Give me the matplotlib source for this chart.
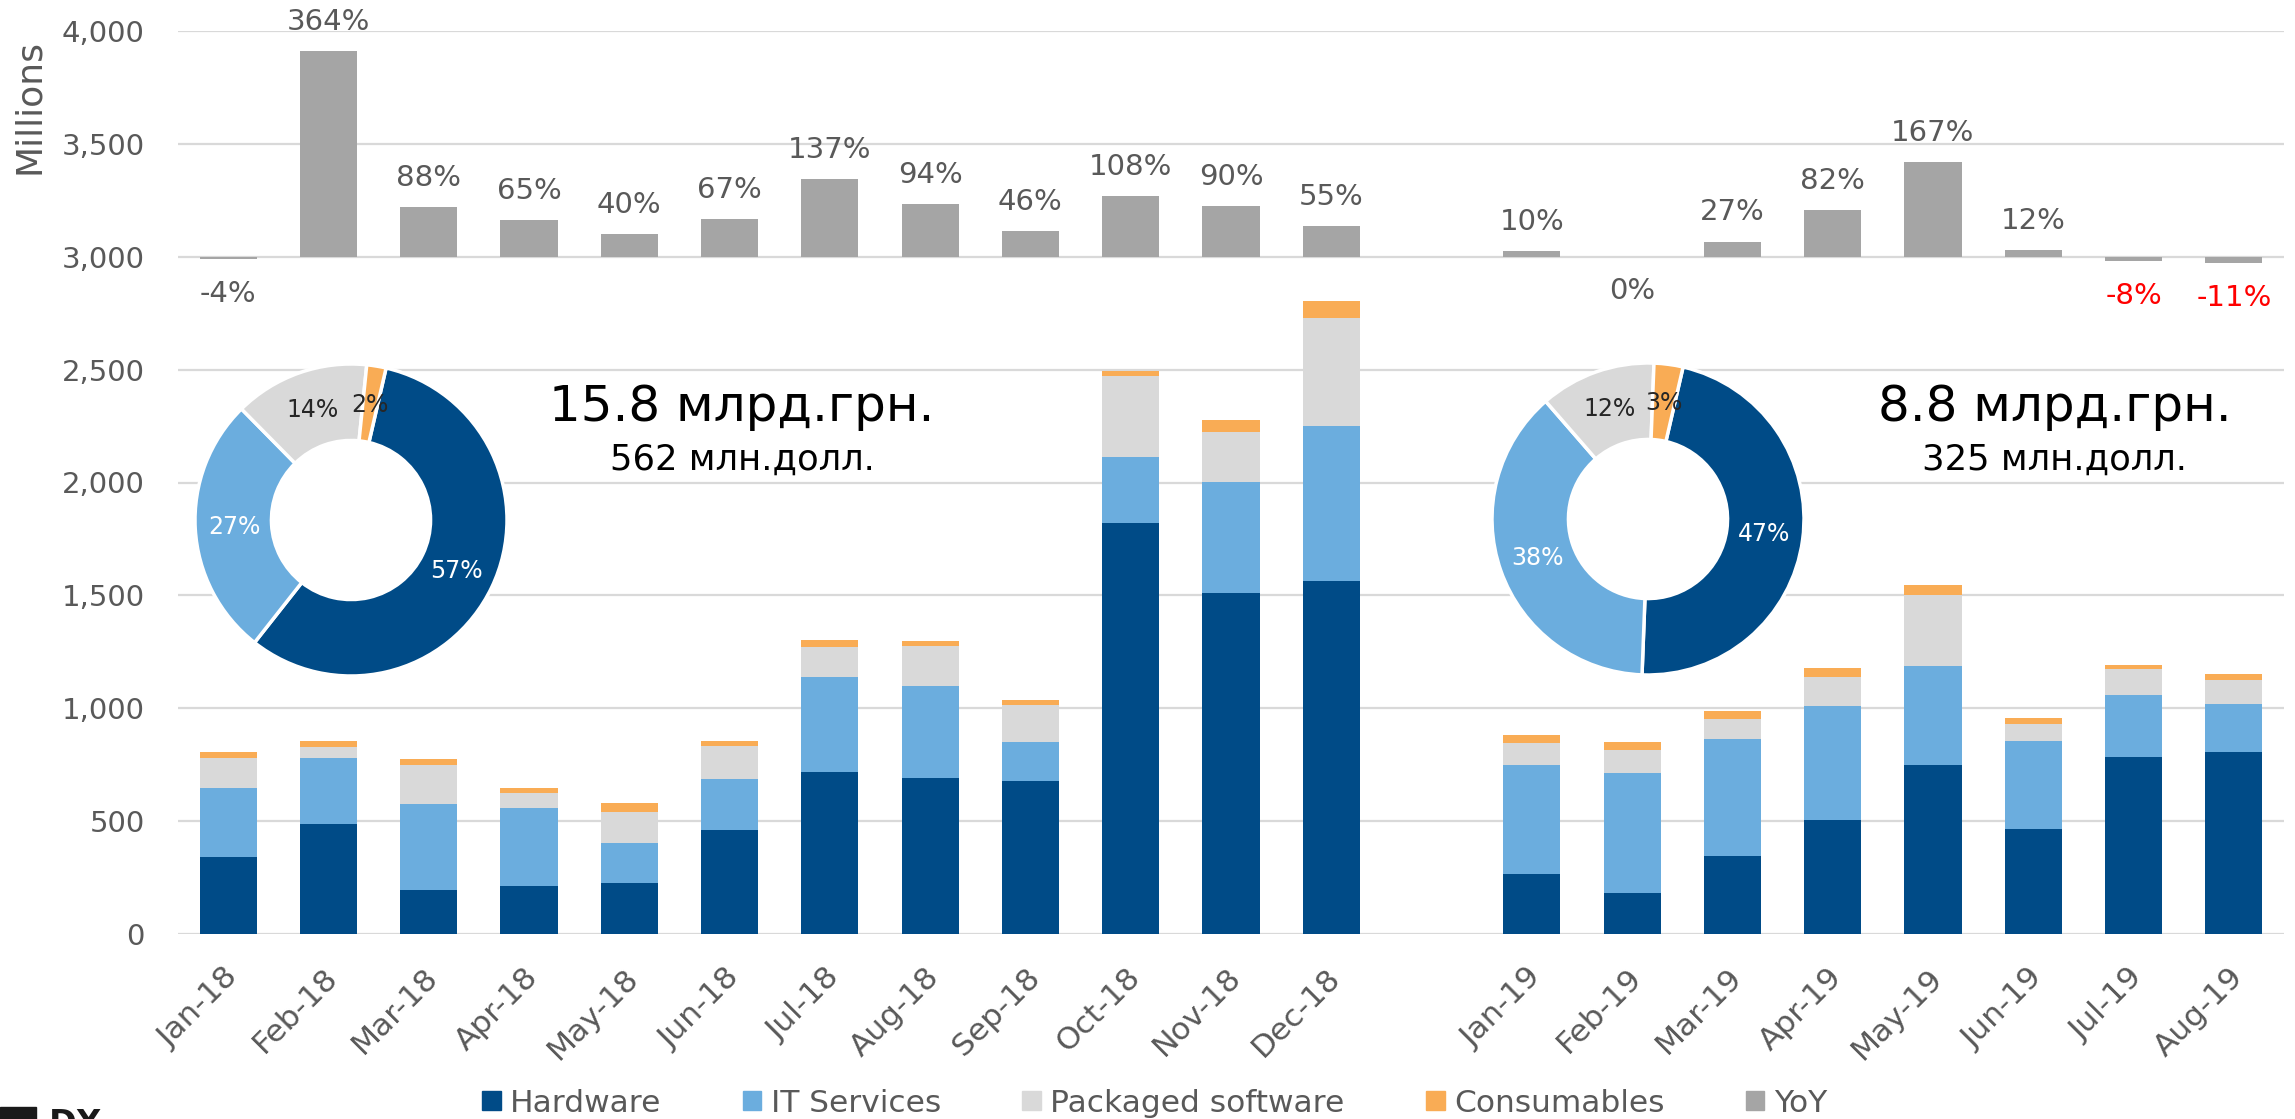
import numpy as np
import matplotlib.pyplot as plt
from matplotlib.patches import Patch, Circle, Rectangle
from matplotlib.transforms import ScaledTranslation

# monthly IT market volumes, millions UAH
months = ["Jan-18", "Feb-18", "Mar-18", "Apr-18", "May-18", "Jun-18",
          "Jul-18", "Aug-18", "Sep-18", "Oct-18", "Nov-18", "Dec-18",
          "Jan-19", "Feb-19", "Mar-19", "Apr-19", "May-19", "Jun-19",
          "Jul-19", "Aug-19"]
hardware = [343, 487, 195, 212, 225, 460, 717, 691, 679, 1820, 1509, 1562,
            264, 182, 344, 504, 747, 463, 786, 805]
it_services = [303, 291, 379, 345, 180, 228, 422, 407, 172, 292, 492, 688,
               483, 533, 520, 507, 440, 390, 272, 212]
packaged = [134, 50, 176, 66, 136, 143, 133, 177, 163, 359, 221, 480,
            101, 101, 88, 129, 316, 77, 114, 110]
consumables = [24, 26, 25, 24, 38, 25, 30, 22, 24, 23, 55, 72,
               32, 34, 35, 40, 41, 25, 20, 24]
yoy = [-4, 364, 88, 65, 40, 67, 137, 94, 46, 108, 90, 55,
       10, 0, 27, 82, 167, 12, -8, -11]

# donut shares per year
share_labels = ["Hardware", "IT Services", "Packaged software", "Consumables"]
shares_2018 = [57, 27, 14, 2]
shares_2019 = [47, 38, 12, 3]
totals_uah = ["15.8 млрд.грн.", "8.8 млрд.грн."]
totals_usd = ["562 млн.долл.", "325 млн.долл."]

colors = ["#004b87", "#6badde", "#d9d9d9", "#f9ac55"]
yoy_color = "#a5a5a5"
text_color = "#595959"

W, H = 2295, 1119
fig = plt.figure(figsize=(W / 100, H / 100), dpi=100)
ax = fig.add_axes([178 / W, 1 - 934 / H, 2106 / W, 903 / H])

# one empty slot between the two years
pos = np.array(list(range(12)) + list(range(13, 21)))
width = 0.57

bottom = np.zeros(len(months))
for vals, c in zip([hardware, it_services, packaged, consumables], colors):
    ax.bar(pos, vals, width, bottom=bottom, color=c, zorder=3)
    bottom += np.array(vals)

# YoY bars hang on the 3,000 line
yoy_base = 3000
yoy_scale = 2.5
ax.bar(pos, np.array(yoy) * yoy_scale, width, bottom=yoy_base, color=yoy_color, zorder=3)
for p, v in zip(pos, yoy):
    col = "red" if v < -5 else text_color
    if v > 0:
        ax.annotate(f"{v}%", (p, yoy_base + v * yoy_scale), xytext=(0, 21),
                    textcoords="offset points", ha="center", va="center",
                    fontsize=21, color=col)
    else:
        ax.annotate(f"{v}%", (p, yoy_base + v * yoy_scale), xytext=(0, -25),
                    textcoords="offset points", ha="center", va="center",
                    fontsize=21, color=col)

ax.set_xlim(-0.5, 20.5)
ax.set_ylim(0, 4000)
ax.set_yticks(np.arange(0, 4001, 500))
ax.set_yticklabels([f"{t:,}" for t in range(0, 4001, 500)])
ax.set_xticks(pos)
ax.set_xticklabels(months, rotation=45, ha="right", va="center", rotation_mode="anchor")
ax.tick_params(axis="y", length=0, pad=24, labelsize=21, labelcolor=text_color)
ax.tick_params(axis="x", length=0, pad=28, labelsize=22.5, labelcolor=text_color)
shift = ScaledTranslation(5 / 100, 0, fig.dpi_scale_trans)
for lab in ax.get_xticklabels():
    lab.set_transform(lab.get_transform() + shift)
ax.grid(axis="y", color="#d9d9d9", linewidth=1.6, zorder=0)
ax.set_axisbelow(True)
for s in ax.spines.values():
    s.set_visible(False)

fig.text(29 / W, 1 - 106 / H, "Millions", rotation=90, ha="center", va="center",
         fontsize=26, color=text_color)

# donuts
def donut(cx, cy, r, shares):
    pax = fig.add_axes([(cx - r) / W, 1 - (cy + r) / H, 2 * r / W, 2 * r / H])
    pax.add_patch(Circle((0, 0), 1.0, color="white", zorder=0))
    wedges, _, autotexts = pax.pie(shares, colors=colors, startangle=77, counterclock=False,
                                   autopct="%.0f%%", pctdistance=0.75,
                                   wedgeprops=dict(width=0.49, edgecolor="white", linewidth=2.5))
    for t, c in zip(autotexts, ["white", "white", "#262626", "#262626"]):
        t.set_color(c)
        t.set_fontsize(17)
    pax.set_xlim(-1, 1)
    pax.set_ylim(-1, 1)
    pax.axis("off")

donut(351, 520, 156, shares_2018)
donut(1648, 519, 156, shares_2019)

for cx, big, small in zip([742, 2055], totals_uah, totals_usd):
    fig.text(cx / W, 1 - 421 / H, big, ha="center", va="baseline", fontsize=36, color="black")
    fig.text(cx / W, 1 - 470 / H, small, ha="center", va="baseline", fontsize=25.5, color="black")

handles = [Patch(color=c) for c in colors] + [Patch(color=yoy_color)]
fig.legend(handles, share_labels + ["YoY"], loc="center", bbox_to_anchor=(0.503, 1 - 1103 / H),
           ncol=5, frameon=False, fontsize=22.5, labelcolor=text_color,
           handlelength=0.6, handleheight=0.6, handletextpad=0.3, columnspacing=2.6)

# logo, cut by the bottom edge
fig.add_artist(Rectangle((0, 0), 36 / W, 12 / H, transform=fig.transFigure, color="#1a1a1a"))
fig.text(49 / W, 1 - 1134 / H, "DX", fontsize=24, fontweight="bold", color="#1a1a1a", va="baseline")

fig.savefig("out.png", dpi=100)
